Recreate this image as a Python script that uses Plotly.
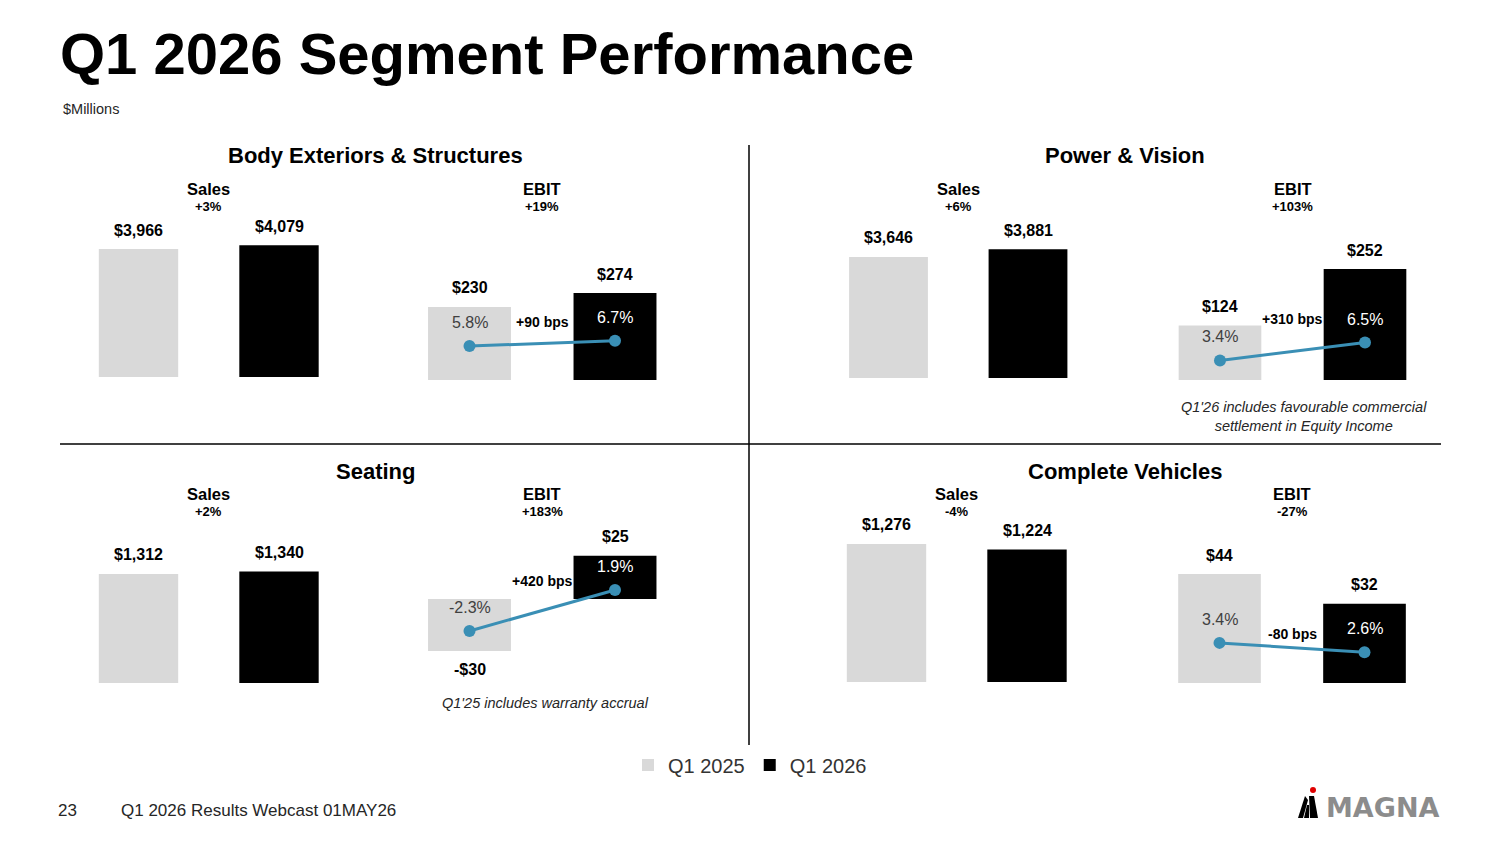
import plotly.graph_objects as go

# Segment data, $Millions
segments = ["Body Exteriors & Structures", "Power & Vision", "Seating", "Complete Vehicles"]
periods = ["Q1 2025", "Q1 2026"]
sales_q1_25 = [3966, 3646, 1312, 1276]
sales_q1_26 = [4079, 3881, 1340, 1224]
ebit_q1_25 = [230, 124, -30, 44]
ebit_q1_26 = [274, 252, 25, 32]
margin_q1_25 = [5.8, 3.4, -2.3, 3.4]
margin_q1_26 = [6.7, 6.5, 1.9, 2.6]
notes = ["",
         "Q1'26 includes favourable commercial<br>settlement in Equity Income",
         "Q1'25 includes warranty accrual",
         ""]

W, H = 1500, 844
OFF = 8  # page body margin
GREY = "#d9d9d9"
BLACK = "#000000"
LINE = "#3a8fb5"
FONT = "Liberation Sans, Arial, sans-serif"


def px(x):
    return (x - OFF) / W


def py(y):
    return 1 - (y - OFF) / H


# Panel geometry in pixels (layout only)
panels = [
    dict(title_xy=(375, 155), head_y=(189, 206),
         sales_x=(68.25, 349.25), sales_y=(217, 377), sales_rng=[0, 4958],
         ebit_x=(396.75, 687.75), ebit_y=(220, 380), ebit_rng=[0, 504], marg_rng=[0, 27.35],
         bps_y=322, note_xy=None),
    dict(title_xy=(1125, 155), head_y=(189, 206),
         sales_x=(818.75, 1097.75), sales_y=(218, 378), sales_rng=[0, 4821],
         ebit_x=(1147.5, 1437.5), ebit_y=(220, 380), ebit_rng=[0, 363.6], marg_rng=[0, 27.8],
         bps_y=319, note_xy=(1304, 416)),
    dict(title_xy=(375, 471), head_y=(494, 511),
         sales_x=(68.25, 349.25), sales_y=(523, 683), sales_rng=[0, 1925],
         ebit_x=(396.75, 687.75), ebit_y=(523, 683), ebit_rng=[-48.55, 43.9], marg_rng=[-7.63, 8.76],
         bps_y=581, note_xy=(545, 703)),
    dict(title_xy=(1125, 471), head_y=(494, 511),
         sales_x=(816.25, 1097.25), sales_y=(522, 682), sales_rng=[0, 1479],
         ebit_x=(1147, 1437), ebit_y=(523, 683), ebit_rng=[0, 64.6], marg_rng=[0, 13.56],
         bps_y=634, note_xy=None),
]


def pct_change(a, b):
    v = round((b - a) / abs(a) * 100)
    return f"+{v}%" if v >= 0 else f"{v}%"


fig = go.Figure()
layout = {}
annotations = []

for i, p in enumerate(panels):
    ns, ne, nm = 3 * i + 1, 3 * i + 2, 3 * i + 3
    xs, xe = f"x{ns}", f"x{ne}"
    ys, ye, ym = f"y{ns}", f"y{ne}", f"y{nm}"

    axis_common = dict(visible=False, showgrid=False, zeroline=False, fixedrange=True)
    layout[f"xaxis{ns}"] = dict(domain=[px(p["sales_x"][0]), px(p["sales_x"][1])], anchor=ys,
                                type="category", categoryorder="array", categoryarray=periods,
                                range=[-0.5, 1.5], **axis_common)
    layout[f"yaxis{ns}"] = dict(domain=[py(p["sales_y"][1]), py(p["sales_y"][0])], anchor=xs,
                                range=p["sales_rng"], **axis_common)
    layout[f"xaxis{ne}"] = dict(domain=[px(p["ebit_x"][0]), px(p["ebit_x"][1])], anchor=ye,
                                type="category", categoryorder="array", categoryarray=periods,
                                range=[-0.5, 1.5], **axis_common)
    layout[f"yaxis{ne}"] = dict(domain=[py(p["ebit_y"][1]), py(p["ebit_y"][0])], anchor=xe,
                                range=p["ebit_rng"], **axis_common)
    layout[f"yaxis{nm}"] = dict(overlaying=ye, anchor=xe, range=p["marg_rng"], **axis_common)

    sales = [sales_q1_25[i], sales_q1_26[i]]
    ebit = [ebit_q1_25[i], ebit_q1_26[i]]
    marg = [margin_q1_25[i], margin_q1_26[i]]
    colors = [GREY, BLACK]

    for k in range(2):
        fig.add_trace(go.Bar(x=[periods[k]], y=[sales[k]], xaxis=xs, yaxis=ys,
                             marker=dict(color=colors[k], line=dict(width=0)), width=0.565,
                             name=periods[k], legendgroup=periods[k], showlegend=(i == 0),
                             hoverinfo="skip"))
        fig.add_trace(go.Bar(x=[periods[k]], y=[ebit[k]], xaxis=xe, yaxis=ye,
                             marker=dict(color=colors[k], line=dict(width=0)), width=0.57,
                             name=periods[k], legendgroup=periods[k], showlegend=False,
                             hoverinfo="skip"))
        # value labels
        annotations.append(dict(x=periods[k], y=sales[k], xref=xs, yref=ys, text=f"${sales[k]:,}",
                                showarrow=False, yanchor="middle", yshift=19,
                                font=dict(size=16, color="#000", family=FONT, weight="bold")))
        lbl = f"${ebit[k]:,}" if ebit[k] >= 0 else f"-${abs(ebit[k]):,}"
        annotations.append(dict(x=periods[k], y=ebit[k], xref=xe, yref=ye, text=lbl,
                                showarrow=False, yanchor="middle",
                                yshift=19 if ebit[k] >= 0 else -19,
                                font=dict(size=16, color="#000", family=FONT, weight="bold")))
        annotations.append(dict(x=periods[k], y=marg[k], xref=xe, yref=ym, text=f"{marg[k]:.1f}%",
                                showarrow=False, yanchor="middle", yshift=23.5,
                                font=dict(size=16, color="#404040" if k == 0 else "#ffffff",
                                          family=FONT)))

    fig.add_trace(go.Scatter(x=periods, y=marg, xaxis=xe, yaxis=ym, mode="lines+markers",
                             line=dict(color=LINE, width=3), marker=dict(color=LINE, size=12),
                             showlegend=False, hoverinfo="skip"))

    # panel title and Sales / EBIT headers
    annotations.append(dict(x=px(p["title_xy"][0]), y=py(p["title_xy"][1]), xref="paper", yref="paper",
                            text=segments[i], showarrow=False, xanchor="center", yanchor="middle",
                            font=dict(size=22, color="#000", family=FONT, weight="bold")))
    for ax, name, chg in [(xs, "Sales", pct_change(*sales)), (xe, "EBIT", pct_change(*ebit))]:
        annotations.append(dict(x=0.5, y=py(p["head_y"][0]), xref=ax, yref="paper", text=name,
                                showarrow=False, yanchor="middle",
                                font=dict(size=16.5, color="#000", family=FONT, weight="bold")))
        annotations.append(dict(x=0.5, y=py(p["head_y"][1]), xref=ax, yref="paper", text=chg,
                                showarrow=False, yanchor="middle",
                                font=dict(size=13, color="#000", family=FONT, weight="bold")))

    bps = round((marg[1] - marg[0]) * 100)
    annotations.append(dict(x=0.5, y=py(p["bps_y"]), xref=xe, yref="paper",
                            text=(f"+{bps} bps" if bps >= 0 else f"{bps} bps"), showarrow=False,
                            yanchor="middle",
                            font=dict(size=14, color="#000", family=FONT, weight="bold")))
    if notes[i]:
        annotations.append(dict(x=px(p["note_xy"][0]), y=py(p["note_xy"][1]), xref="paper", yref="paper",
                                text=notes[i], showarrow=False, xanchor="center", yanchor="middle",
                                font=dict(size=14.5, color="#262626", family=FONT, style="italic")))

# slide title and footer
annotations += [
    dict(x=px(58), y=py(53), xref="paper", yref="paper", text="Q1 2026 Segment Performance",
         showarrow=False, xanchor="left", yanchor="middle",
         font=dict(size=58, color="#000", family=FONT, weight="bold")),
    dict(x=px(61), y=py(109), xref="paper", yref="paper", text="$Millions",
         showarrow=False, xanchor="left", yanchor="middle",
         font=dict(size=14.5, color="#262626", family=FONT)),
    dict(x=px(56), y=py(810), xref="paper", yref="paper", text="23",
         showarrow=False, xanchor="left", yanchor="middle",
         font=dict(size=17, color="#262626", family=FONT)),
    dict(x=px(119), y=py(810), xref="paper", yref="paper", text="Q1 2026 Results Webcast 01MAY26",
         showarrow=False, xanchor="left", yanchor="middle",
         font=dict(size=17, color="#262626", family=FONT)),
    dict(x=px(1442), y=py(807), xref="paper", yref="paper", text="MAGNA",
         showarrow=False, xanchor="right", yanchor="middle",
         font=dict(size=27, color="#8c8c8c", family="DejaVu Sans", weight="bold")),
]

shapes = [
    dict(type="line", xref="paper", yref="paper", x0=px(749), x1=px(749), y0=py(145), y1=py(745),
         line=dict(color="#000", width=1.5)),
    dict(type="line", xref="paper", yref="paper", x0=px(60), x1=px(1441), y0=py(444), y1=py(444),
         line=dict(color="#000", width=1.5)),
]


# MAGNA logo mark (stylised stripes + red dot)
def ppath(pts):
    return "M " + " L ".join(f"{px(a)},{py(b)}" for a, b in pts) + " Z"


shapes += [
    dict(type="path", xref="paper", yref="paper", fillcolor="#000", line=dict(width=0),
         path=ppath([(1298, 818), (1303, 818), (1308, 800), (1305, 796)])),
    dict(type="path", xref="paper", yref="paper", fillcolor="#000", line=dict(width=0),
         path=ppath([(1304, 818), (1309, 818), (1309, 805), (1307, 805)])),
    dict(type="path", xref="paper", yref="paper", fillcolor="#000", line=dict(width=0),
         path=ppath([(1310, 818), (1318, 818), (1314, 796), (1309, 796)])),
    dict(type="circle", xref="paper", yref="paper", fillcolor="#e00000", line=dict(width=0),
         x0=px(1310), x1=px(1316), y0=py(793), y1=py(787)),
]

fig.update_layout(
    width=W, height=H,
    margin=dict(l=0, r=0, t=0, b=0),
    paper_bgcolor="#ffffff", plot_bgcolor="rgba(0,0,0,0)",
    barmode="overlay",
    font=dict(family=FONT, color="#000"),
    showlegend=True,
    legend=dict(orientation="h", x=px(750), xanchor="center", y=py(765), yanchor="middle",
                font=dict(size=20, color="#333", family=FONT), traceorder="normal",
                bgcolor="rgba(0,0,0,0)"),
    annotations=annotations,
    shapes=shapes,
    **layout,
)

fig.write_html("out.html")
